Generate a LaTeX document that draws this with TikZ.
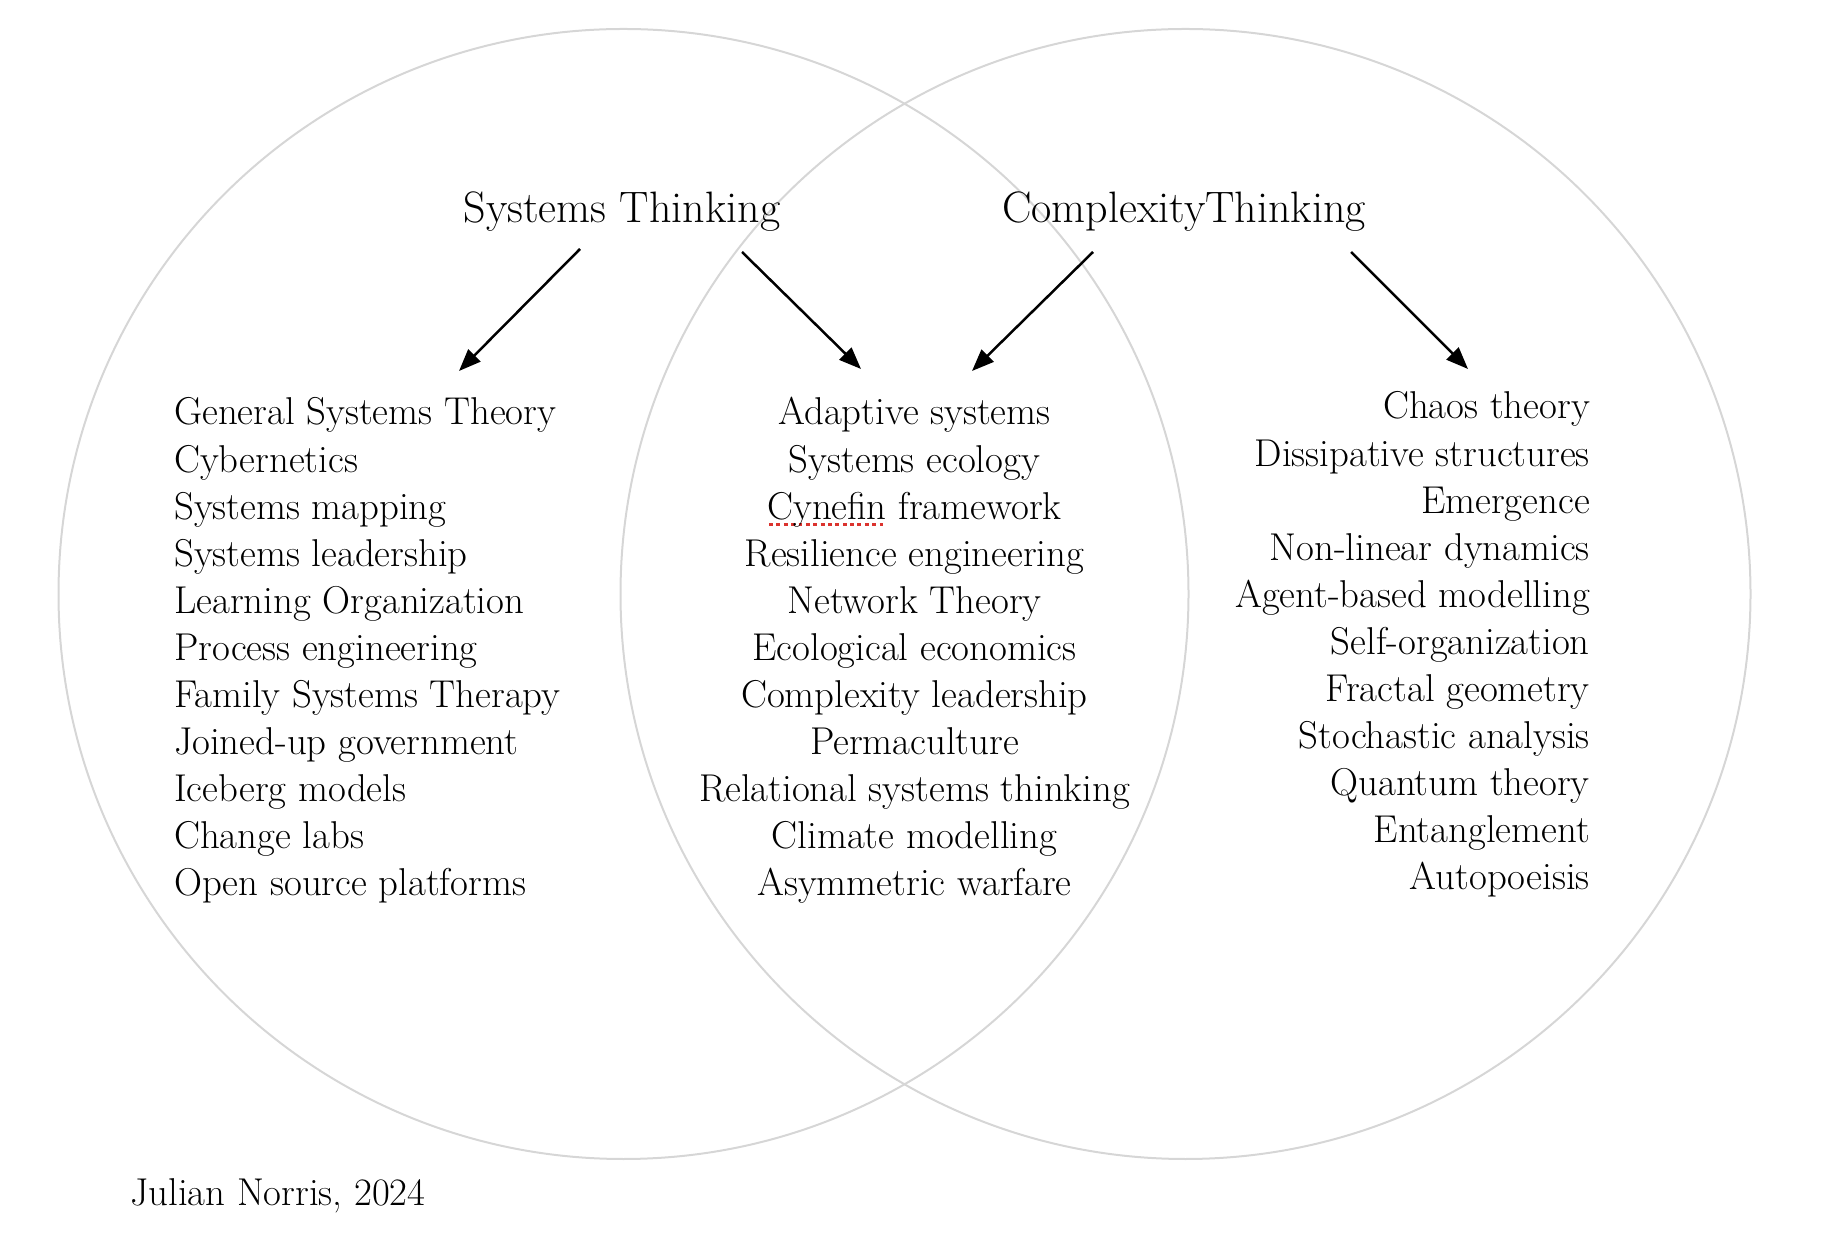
\documentclass[tikz,border=0pt]{standalone}
\usepackage{tikz}
\usetikzlibrary{arrows.meta}
\usetikzlibrary{positioning}
\tikzset{item/.style = {inner sep = 0, font = \fontsize{38.8}{46}\selectfont}}
\tikzset{head/.style = {inner sep = 0, font = \fontsize{44}{52}\selectfont}}
\tikzset{link/.style = {line width = 2.5pt, -{Triangle[length = 22pt, width = 17pt]}}}
\tikzset{ring/.style = {vgray, line width = 2pt}}
\definecolor{vgray}{rgb}{0.84, 0.84, 0.84}
\definecolor{sred}{rgb}{0.86, 0.2, 0.18}
\newcommand\spellmark[1]{\setbox0=\hbox{#1}\rlap{\color{sred}\raisebox{-0.17em}{\leaders\hbox to 0.19em{\hss\rule{0.1em}{0.08em}\hss}\hskip\wd0}}#1}

\begin{document}
\begin{tikzpicture}[x = 1pt, y = 1pt]
  \useasboundingbox (0, 0) rectangle (1836, 1240);

  \draw [ring] (623.5, 646) circle [radius = 565pt];
  \draw [ring] (1185.5, 646) circle [radius = 565pt];

  \node [head, anchor = base] (sys) at (622, 1017) {Systems Thinking};
  \node [head, anchor = base] (cx) at (1184, 1017) {ComplexityThinking};

  \coordinate (sys-l) at (580, 991);
  \coordinate (sys-r) at (742, 988);
  \coordinate (cx-l) at (1093, 988);
  \coordinate (cx-r) at (1351, 988);
  \coordinate (sys-lt) at (459, 869);
  \coordinate (sys-rt) at (861, 871);
  \coordinate (cx-lt) at (972, 869);
  \coordinate (cx-rt) at (1468, 871);
  \draw [link] (sys-l) -- (sys-lt);
  \draw [link] (sys-r) -- (sys-rt);
  \draw [link] (cx-l) -- (cx-lt);
  \draw [link] (cx-r) -- (cx-rt);

  \foreach \txt [count = \i] in {General Systems Theory, Cybernetics, Systems mapping, Systems leadership, Learning Organization, Process engineering, Family Systems Therapy, Joined-up government, Iceberg models, Change labs, Open source platforms}
    \node [item, anchor = base west] (sys\i) at (174, {815 - 47.1*(\i - 1)}) {\txt};

  \foreach \txt [count = \i] in {Adaptive systems, Systems ecology, \spellmark{Cynefin} framework, Resilience engineering, Network Theory, Ecological economics, Complexity leadership, Permaculture, Relational systems thinking, Climate modelling, Asymmetric warfare}
    \node [item, anchor = base] (both\i) at (914.5, {815 - 47.1*(\i - 1)}) {\txt};

  \foreach \txt [count = \i] in {Chaos theory, Dissipative structures, Emergence, Non-linear dynamics, Agent-based modelling, Self-organization, Fractal geometry, Stochastic analysis, Quantum theory, Entanglement, Autopoeisis}
    \node [item, anchor = base east] (cx\i) at (1590, {821 - 47.1*(\i - 1)}) {\txt};

  \node [item, anchor = base west] (sign) at (130, 35) {Julian Norris, 2024};
\end{tikzpicture}
\end{document}
